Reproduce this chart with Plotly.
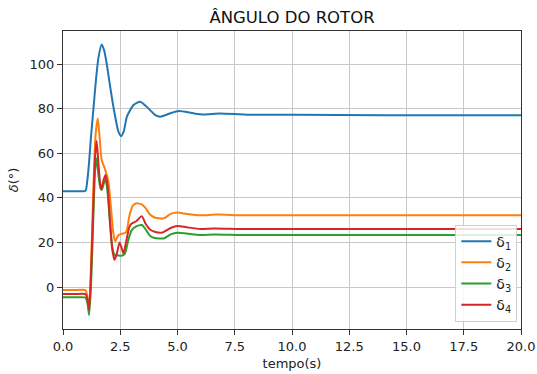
import plotly.graph_objects as go

# Rotor angle data
t1 = [0, 0.5, 0.95, 1.0, 1.11, 1.22, 1.33, 1.44, 1.55, 1.69, 1.8, 1.91, 2.05, 2.2, 2.42, 2.54, 2.66, 2.79, 3.08, 3.37, 3.73, 4.03, 4.25, 4.68, 5.05, 5.7, 6.14, 6.87, 8.0, 10.0, 14.0, 20.0]
d1 = [43, 43, 43, 43.5, 52.5, 67, 80, 93, 103, 108.8, 106, 100, 90.5, 80.9, 69.7, 67.7, 70, 76.4, 81.6, 83.1, 80.1, 77.1, 76.4, 77.9, 78.9, 77.9, 77.4, 77.8, 77.3, 77.2, 77.0, 77.0]

t2 = [0, 0.5, 0.95, 1.0, 1.08, 1.14, 1.22, 1.32, 1.42, 1.52, 1.6, 1.69, 1.83, 1.98, 2.1, 2.2, 2.28, 2.4, 2.5, 2.75, 2.9, 3.05, 3.2, 3.45, 3.6, 3.8, 4.0, 4.4, 4.7, 5.0, 5.4, 6.0, 6.7, 8.0, 20.0]
d2 = [-1.3, -1.3, -1.3, -1.6, -5, -9, 8, 42, 68, 75.6, 67, 57, 53, 47.5, 35, 24, 20.5, 23, 23.7, 24.5, 32, 36.5, 37.6, 37, 35.5, 32.5, 31.2, 30.8, 32.8, 33.4, 32.8, 32.2, 32.5, 32.2, 32.2]

t3 = [0, 0.5, 0.95, 1.0, 1.08, 1.14, 1.22, 1.32, 1.4, 1.47, 1.55, 1.63, 1.69, 1.77, 1.86, 1.95, 2.05, 2.15, 2.25, 2.4, 2.55, 2.7, 2.85, 3.0, 3.2, 3.44, 3.6, 3.8, 4.0, 4.4, 4.7, 5.0, 5.4, 6.0, 6.6, 8.0, 20.0]
d3 = [-4.6, -4.6, -4.6, -5, -8, -12.6, 0, 30, 52, 57.7, 50, 44.5, 43.5, 46, 48.5, 42, 29, 18, 14.5, 14.2, 14, 15, 21, 25.5, 27.2, 27.8, 26, 23, 22, 21.8, 23.6, 24.4, 24, 23.3, 23.6, 23.3, 23.3]

t4 = [0, 0.5, 0.95, 1.0, 1.08, 1.14, 1.22, 1.32, 1.4, 1.47, 1.55, 1.63, 1.69, 1.77, 1.86, 1.95, 2.05, 2.15, 2.25, 2.35, 2.47, 2.56, 2.64, 2.75, 2.9, 3.0, 3.2, 3.44, 3.6, 3.8, 4.0, 4.32, 4.7, 5.0, 5.4, 6.0, 6.6, 8.0, 20.0]
d4 = [-3.1, -3.1, -3.1, -3.4, -6, -10.3, 5, 35, 58, 65.5, 55, 46, 44, 48, 50.2, 45, 30, 17, 12.2, 15, 20, 17.5, 15, 20, 27, 28.5, 29.5, 31.8, 28.5, 25.8, 24.8, 24.4, 26.5, 27.4, 26.8, 26, 26.3, 26, 26]

names = ["δ<sub>1</sub>", "δ<sub>2</sub>", "δ<sub>3</sub>", "δ<sub>4</sub>"]
colors = ["#1f77b4", "#ff7f0e", "#2ca02c", "#d62728"]
series = [(t1, d1), (t2, d2), (t3, d3), (t4, d4)]

x_ticks = [0, 2.5, 5, 7.5, 10, 12.5, 15, 17.5, 20]
x_tick_labels = ["0.0", "2.5", "5.0", "7.5", "10.0", "12.5", "15.0", "17.5", "20.0"]
y_ticks = [0, 20, 40, 60, 80, 100]

fig = go.Figure()
for (t, d), n, c in zip(series, names, colors):
    fig.add_trace(go.Scatter(x=t, y=d, name=n, mode="lines",
                             line=dict(color=c, width=2, shape="spline", smoothing=0.6)))

font = "DejaVu Sans"
fig.update_layout(
    width=537, height=374,
    margin=dict(l=63, r=16, t=31, b=45),
    paper_bgcolor="white", plot_bgcolor="white",
    font=dict(family=font, size=13, color="#222"),
    title=dict(text="ÂNGULO DO ROTOR", x=(63 + 521) / 2 / 537, xanchor="center",
               y=1 - 17 / 374, yanchor="middle", font=dict(size=16.5, color="#111")),
    showlegend=True,
    legend=dict(x=0.992, y=0.025, xanchor="right", yanchor="bottom",
                bgcolor="rgba(255,255,255,0.85)", bordercolor="#d0d0d0", borderwidth=1,
                font=dict(size=14, color="#222"), tracegroupgap=0, itemwidth=30),
)
fig.update_xaxes(range=[0, 20], tickvals=x_ticks, ticktext=x_tick_labels, automargin=False,
                 showgrid=True, gridcolor="#c8c8c8", gridwidth=1,
                 showline=True, linecolor="#333", linewidth=1, mirror=True,
                 ticks="outside", ticklen=5, tickcolor="#333", zeroline=False,
                 tickfont=dict(size=13),
                 title=dict(text="tempo(s)", standoff=6, font=dict(size=13)))
fig.update_yaxes(range=[-18.8, 114.8], tickvals=y_ticks, automargin=False,
                 showgrid=True, gridcolor="#c8c8c8", gridwidth=1,
                 showline=True, linecolor="#333", linewidth=1, mirror=True,
                 ticks="outside", ticklen=5, tickcolor="#333", zeroline=False,
                 tickfont=dict(size=13),
                 title=dict(text="<i>δ</i>(°)", standoff=8, font=dict(size=13)))

fig.write_html("out.html")
